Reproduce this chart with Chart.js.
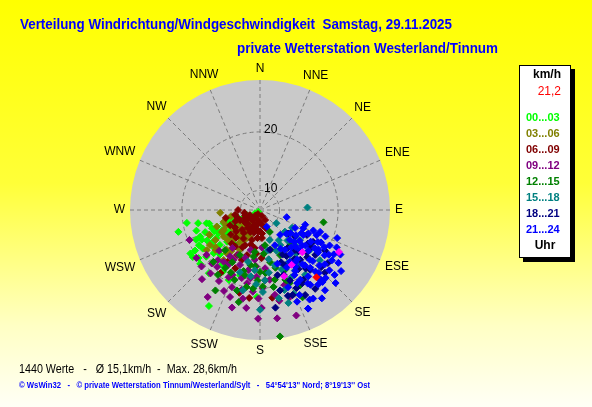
<!DOCTYPE html>
<html>
<head>
<meta charset="utf-8">
<script src="https://cdn.jsdelivr.net/npm/chart.js@4.4.1/dist/chart.umd.min.js"></script>
<style>
  html, body { margin: 0; padding: 0; background: #fff; }
  canvas { display: block; }
</style>
</head>
<body>
<canvas id="windChart" width="592" height="407"></canvas>
<script>
// Chart texts
const titleText = 'Verteilung Windrichtung/Windgeschwindigkeit  Samstag, 29.11.2025';
const stationText = 'private Wetterstation Westerland/Tinnum';
const footerText = '\u00A9 WsWin32   -   \u00A9 private Wetterstation Tinnum/Westerland/Sylt   -   54\u00B054\'13\'\' Nord; 8\u00B019\'13\'\' Ost';

// Summary values
const valueCount = 1440;
const avgSpeed = '15,1';
const maxSpeed = '28,6';
const currentSpeed = '21,2';

// Axis: compass directions and speed rings (km/h)
const directionLabels = ['N', 'NNE', 'NE', 'ENE', 'E', 'ESE', 'SE', 'SSE', 'S', 'SSW', 'SW', 'WSW', 'W', 'WNW', 'NW', 'NNW'];
const ringValues = [10, 20];
const outerSpeed = 25.8;   // speed at the edge of the disc (radius grows with v^2)

// Hour groups
const hourGroups = ['00...03', '03...06', '06...09', '09...12', '12...15', '15...18', '18...21', '21...24'];

// Points: [direction in degrees, speed in km/h]
const h00_03 = [[260,19.5],[255,20.8],[255,16.4],[243,18.3],[240,17.7],[245,19.0],[236,18.8],[238,19.8],[238,20.5],[232,20.0],
  [228,20.3],[236,17.0],[241,15.6],[249,15.4],[250,14.1],[251,13.1],[253,12.0],[254,11.1],[235,14.4],[229,16.5],
  [236,13.6],[241,10.3],[249,8.5],[237,5.5],[225,3.5],[243,16.9],[237,16.3],[226,15.3],[223,14.1],[229,12.5],
  [219,20.4],[208,23.6],[211,19.2],[204,19.8],[197,18.7],[182,21.1],[229,19.1],[256,16.8],[246,18.3],[233,11.3],
  [231,9.9],[231,8.1],[242,14.8],[249,16.2],[216,14.8],[215,12.7],[208,9.3],[248,17.4],[221,16.5],
  [245,16.0],[240,19.0],[233,17.5],[227,18.0],[252,18.5],[258,18.0],[235,20.5],[246,13.0],[240,12.5],[230,15.0],
  [222,17.5],[215,18.5],[245,9.5],[236,7.5]];
const h03_06 = [[266,14.3],[258,12.3],[241,14.6],[234,15.2],[220,16.3],[220,15.0],[221,13.0],[225,11.0],[221,8.9],[247,11.4],
  [216,17.8],[201,12.1],[249,15.4],[235,17.7],[233,18.5],[216,12.1],[225,9.8],[220,8.2],[222,14.3],[218,16.7],
  [211,10.9],[205,12.6],[231,12.1],[208,13.2],[227,15.0],[207,15.1],[236,16.6],[244,17.0],[230,17.2],[212,14.0],[238,13.0],
  [240,15.0],[226,13.5],[232,10.5],[215,16.0],[245,13.8],[210,11.5],[228,17.5],[240,11.0],[252,14.0],[218,13.3]];
const h06_09 = [[207,4.8],[162,5.7],[212,6.9],[243,7.6],[242,9.3],[221,9.7],[197,9.3],[180,7.8],[153,7.6],[162,9.9],
  [185,10.6],[204,11.1],[222,11.7],[243,10.7],[259,11.4],[195,12.6],[176,12.0],[203,14.0],[221,13.7],[188,14.0],
  [243,13.1],[203,18.0],[187,21.3],[194,20.9],[172,21.3],[212,19.5],[212,17.7],[178,15.7],[196,15.5],[270,10.6],
  [257,13.4],[200,16.5],[207,16.1],[215,10.5],[230,10.0],[200,9.0],[190,8.5],[235,12.5],[210,13.0],[185,12.0],
  [250,9.0],[225,8.0],[195,11.0],[170,9.0],[214,15.0],
  [200,7.0],[220,6.0],[235,9.0],[245,11.8],[228,12.8],[215,12.0],[205,10.0],[190,10.0],[180,10.5],[230,14.0],
  [220,15.0],[195,13.5],[185,15.0],[240,8.0],[215,8.0],[175,11.0],[250,11.0],[260,9.0],[205,14.5]];
const h09_12 = [[247,19.8],[230,18.9],[222,19.2],[220,18.3],[215,18.0],[226,20.4],[217,19.1],[210,18.0],[211,22.8],[204,21.3],
  [199,21.7],[190,19.5],[181,23.6],[188,18.8],[181,21.3],[179,22.4],[171,23.7],[161,23.9],[168,21.8],[161,21.7],
  [191,21.5],[203,19.0],[200,17.3],[191,17.7],[186,16.0],[206,16.0],[197,16.0],[175,17.3],[172,19.0],[162,20.1],
  [216,15.5],[233,20.2],[218,20.3],[177,13.9],[195,19.0],[208,17.0],[183,18.5],[213,16.8],[225,17.2],[193,14.5],
  [185,20.5],[193,20.5],[200,20.5],[205,19.5],[178,20.0],[170,21.0],[188,22.5],[196,22.8],[210,20.5],[220,21.5],
  [176,19.0],[184,17.0]];
const h12_15 = [[209,21.7],[193,22.0],[171,25.6],[101,18.2],[154,22.3],[196,20.7],[185,20.1],[213,19.9],[158,20.1],[211,18.6],
  [208,17.4],[193,18.5],[180,17.8],[169,16.5],[156,15.9],[187,14.7],[172,13.5],[157,18.2],[168,19.1],[152,20.9],
  [204,15.9],[190,16.9],[139,15.4],[221,16.5],[222,18.9],[156,11.1],[200,19.5],[178,19.8],[165,14.5],[185,17.0],
  [175,18.0],[182,19.0],[190,20.0],[195,18.0],[165,17.5],[160,19.5],[170,20.0],[205,18.8],[188,15.5],[175,15.0]];
const h15_18 = [[87,15.6],[129,10.4],[131,13.0],[180,22.6],[163,22.3],[192,20.5],[162,12.7],[150,14.4],[146,16.6],[165,17.1],
  [150,18.9],[176,19.0],[185,17.6],[127,16.0],[129,18.1],[145,20.1],[163,20.7],[193,16.5],[198,18.3],[169,14.5],
  [130,20.0],[119,13.7],[140,17.0],[155,19.5],[170,16.0],[138,14.5],[158,15.0],[183,19.5],
  [145,18.5],[152,17.5],[160,18.0],[172,18.0],[178,20.5],[148,13.5],[135,16.0],[168,21.5],[158,21.5],[188,18.5]];
const h18_21 = [[130,13.7],[121,17.8],[171,22.5],[145,22.2],[150,20.8],[159,21.6],[127,15.0],[125,17.3],[133,20.7],[141,18.1],
  [156,17.6],[140,20.0],[139,16.5],[139,21.7],[165,18.6],[152,22.2],[129,19.1],[157,19.8],[166,14.5],[122,19.8],
  [166,20.6],[147,19.0],[135,18.5],[153,16.0],[128,21.0],[160,18.8],[144,15.5],[118,16.5],
  [137,17.0],[142,19.5],[148,20.5],[155,21.0],[132,18.0],[126,18.0],[150,16.5],[162,21.5],[134,21.5],[145,17.5],[158,17.0]];
const h21_24 = [[105,11.9],[158,9.6],[119,15.6],[116,16.6],[111,17.1],[116,20.9],[125,21.2],[124,22.0],[119,18.4],[139,21.7],
  [154,23.7],[151,22.9],[139,22.1],[149,23.0],[154,23.7],[135,14.7],[135,17.0],[135,19.0],[133,20.4],[125,20.1],
  [125,18.5],[141,19.1],[152,19.4],[148,15.5],[150,20.3],[138,20.6],[131,21.7],[117,20.0],[141,12.8],[157,14.0],
  [146,21.5],[141,23.0],[150,17.5],[110,18.1],[119,21.7],[108,15.6],[117,14.2],[131,22.5],[155,21.9],[128,16.0],
  [122,17.5],[130,18.0],[143,17.8],[145,16.5],[133,15.5],[126,19.2],[137,21.0],[148,18.5],[120,19.5],[112,19.0],
  [127,22.8],[134,23.2],[144,20.5],[121,21.0],
  [120,16.0],[125,15.0],[130,16.8],[136,16.2],[140,15.8],[142,18.8],[146,18.0],[150,19.0],[153,20.5],[147,21.2],
  [142,22.0],[136,22.0],[130,20.8],[124,19.0],[118,18.8],[114,17.8],[123,20.5],[128,17.2],[139,19.8],[155,18.0],
  [160,20.5],[158,22.5],[145,23.5],[134,19.4],[127,14.0],[113,15.5],[110,20.5],[132,13.5],[162,17.0],[152,15.0]];
const lastValues = [[118,21.4],[150,18.0],[135,17.5],[160,19.0]];
const currentValue = [[140,21.2]];

const groupPoints = [h00_03, h03_06, h06_09, h09_12, h12_15, h15_18, h18_21, h21_24];
const groupColors = ['#00FF00', '#808000', '#800000', '#800080', '#008000', '#008080', '#000080', '#0000FF'];

// Convert direction/speed into the x/y space of the chart (edge = 1)
function toXY(p) {
    const rho = Math.pow(p[1] / outerSpeed, 2);
    const a = p[0] * Math.PI / 180;
    return { x: rho * Math.sin(a), y: rho * Math.cos(a) };
}

// Draw text squeezed to a given width
function fitText(ctx, text, x, y, width) {
    const w = ctx.measureText(text).width;
    ctx.save();
    ctx.translate(x, y);
    ctx.scale(width / w, 1);
    ctx.fillText(text, 0, 0);
    ctx.restore();
}

const polarFrame = {
    id: 'polarFrame',
    beforeDraw(chart) {
        const ctx = chart.ctx;
        const g = ctx.createLinearGradient(0, 0, 0, chart.height);
        g.addColorStop(0, '#FFFF00');
        g.addColorStop(0.45, '#FFFF38');
        g.addColorStop(0.8, '#FFFFC4');
        g.addColorStop(1, '#FFFFF6');
        ctx.save();
        ctx.fillStyle = g;
        ctx.fillRect(0, 0, chart.width, chart.height);
        ctx.restore();
    },
    beforeDatasetsDraw(chart) {
        const ctx = chart.ctx;
        const xs = chart.scales.x, ys = chart.scales.y;
        const cx = xs.getPixelForValue(0), cy = ys.getPixelForValue(0);
        const R = xs.getPixelForValue(1) - cx;

        ctx.save();
        // disc
        ctx.fillStyle = '#C9C9C9';
        ctx.beginPath();
        ctx.arc(cx, cy, R, 0, Math.PI * 2);
        ctx.fill();

        // spokes and rings
        ctx.strokeStyle = '#7C7C7C';
        ctx.lineWidth = 1;
        ctx.setLineDash([4, 3]);
        directionLabels.forEach((lab, i) => {
            const a = i * 22.5 * Math.PI / 180;
            ctx.beginPath();
            ctx.moveTo(cx, cy);
            ctx.lineTo(xs.getPixelForValue(Math.sin(a)), ys.getPixelForValue(Math.cos(a)));
            ctx.stroke();
        });
        ringValues.forEach(v => {
            const r = R * Math.pow(v / outerSpeed, 2);
            ctx.beginPath();
            ctx.arc(cx, cy, r, 0, Math.PI * 2);
            ctx.stroke();
        });
        ctx.setLineDash([]);
        ctx.fillStyle = '#A4A4A4';
        ctx.fillRect(cx - 3, cy - 3, 6, 6);

        // ring labels
        ctx.fillStyle = '#000';
        ctx.font = '12px "Liberation Sans", Arial, sans-serif';
        ctx.textAlign = 'left';
        ctx.textBaseline = 'middle';
        ringValues.forEach(v => {
            const r = R * Math.pow(v / outerSpeed, 2);
            ctx.fillText(String(v), cx + 4, cy - r - 2);
        });

        // compass labels
        ctx.textAlign = 'center';
        directionLabels.forEach((lab, i) => {
            const a = i * 22.5 * Math.PI / 180;
            const w = ctx.measureText(lab).width;
            const d = R + 5 + Math.abs(Math.sin(a)) * w / 2 + Math.abs(Math.cos(a)) * 6;
            ctx.fillText(lab, cx + d * Math.sin(a), cy - d * Math.cos(a));
        });
        ctx.restore();
    },
    afterDraw(chart) {
        const ctx = chart.ctx;
        ctx.save();
        ctx.textBaseline = 'middle';
        ctx.textAlign = 'left';

        // titles
        ctx.fillStyle = '#0000FF';
        ctx.font = 'bold 14px "Liberation Sans", Arial, sans-serif';
        fitText(ctx, titleText, 20, 25, 432);
        fitText(ctx, stationText, 237, 49, 261);

        // summary lines
        ctx.fillStyle = '#000';
        ctx.font = '12px "Liberation Sans", Arial, sans-serif';
        fitText(ctx, valueCount + ' Werte   -   \u00D8 ' + avgSpeed + 'km/h  -  Max. ' + maxSpeed + 'km/h', 19, 370, 218);
        ctx.fillStyle = '#0000FF';
        ctx.font = 'bold 9px "Liberation Sans", Arial, sans-serif';
        fitText(ctx, footerText, 19, 386, 351);

        // legend box with shadow
        ctx.fillStyle = '#000';
        ctx.fillRect(523, 69, 52, 193);
        ctx.fillStyle = '#FFF';
        ctx.fillRect(519, 65, 52, 193);
        ctx.strokeStyle = '#000';
        ctx.lineWidth = 1;
        ctx.strokeRect(519.5, 65.5, 51, 192);

        ctx.textAlign = 'center';
        ctx.fillStyle = '#000';
        ctx.font = 'bold 12px "Liberation Sans", Arial, sans-serif';
        ctx.fillText('km/h', 547, 75);
        ctx.fillText('Uhr', 545, 246);
        ctx.textAlign = 'right';
        ctx.fillStyle = '#FF0000';
        ctx.font = '12px "Liberation Sans", Arial, sans-serif';
        ctx.fillText(currentSpeed, 561, 92);
        ctx.textAlign = 'left';
        ctx.font = 'bold 11px "Liberation Sans", Arial, sans-serif';
        hourGroups.forEach((lab, i) => {
            ctx.fillStyle = groupColors[i];
            ctx.fillText(lab, 526, 118 + i * 16);
        });
        ctx.restore();
    }
};

function makeDataset(label, pts, color, order) {
    return {
        label: label,
        data: pts.map(toXY),
        backgroundColor: color,
        borderColor: color,
        borderWidth: 1,
        pointStyle: 'rectRot',
        pointRadius: 3.5,
        order: order
    };
}

const datasets = hourGroups.map((lab, i) => makeDataset(lab, groupPoints[i], groupColors[i], 10 - i));
datasets.push(makeDataset('last', lastValues, '#FF00FF', 1));
datasets.push(makeDataset('current', currentValue, '#FF0000', 0));

new Chart(document.getElementById('windChart').getContext('2d'), {
    type: 'scatter',
    data: { datasets: datasets },
    options: {
        responsive: false,
        animation: false,
        events: [],
        layout: { padding: { left: 130, right: 202, top: 80, bottom: 67 } },
        plugins: { legend: { display: false }, tooltip: { enabled: false }, title: { display: false } },
        scales: {
            x: { type: 'linear', min: -1, max: 1, display: false },
            y: { type: 'linear', min: -1, max: 1, display: false }
        }
    },
    plugins: [polarFrame]
});
</script>
</body>
</html>
